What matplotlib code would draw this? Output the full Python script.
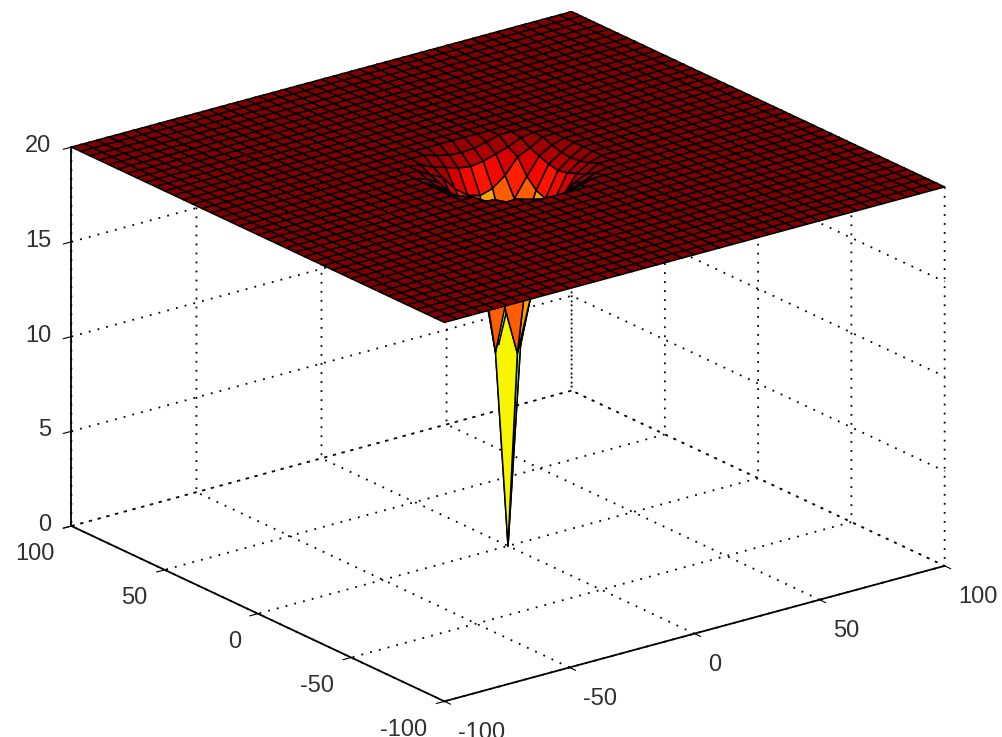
import numpy as np
import matplotlib
matplotlib.use('Agg')
from matplotlib import pyplot as plt
from mpl_toolkits.mplot3d import Axes3D

# grid spacing on both floor axes
step = 5
x_ticks = [-100, -50, 0, 50, 100]
y_ticks = [-100, -50, 0, 50, 100]
z_ticks = [0, 5, 10, 15, 20]

# height read per ring of grid points, ring = (dx^2 + dy^2) in grid steps
ring_id = [0, 1, 2, 4, 5, 8, 9, 10, 13, 16, 17, 18, 20, 25, 26, 29, 32]
ring_z = [0, 10.4, 13, 14.8, 16.2, 17.5, 17.8, 18.0, 18.5, 19.1, 19.2, 19.3, 19.4, 19.6, 19.65,
          19.8, 19.9]
flat_z = 20

plt.rcParams['font.family'] = ['Liberation Sans', 'DejaVu Sans']
plt.rcParams['axes.unicode_minus'] = False
plt.rcParams['grid.linestyle'] = (0, (1, 4))
plt.rcParams['grid.linewidth'] = 1.3
plt.rcParams['grid.color'] = 'black'

x = np.arange(-100, 101, step)
y = np.arange(-100, 101, step)
X, Y = np.meshgrid(x, y)
lookup = dict(zip(ring_id, ring_z))
rings = ((X / step) ** 2 + (Y / step) ** 2).astype(int)
Z = np.array([[lookup.get(v, flat_z) for v in row] for row in rings], dtype=float)

fig = plt.figure(figsize=(10.02, 7.37), dpi=100)
ax = fig.add_axes([24.8 / 1002, -102.7 / 737, 941 / 1002, 941 / 737], projection='3d', proj_type='ortho')
ax.view_init(elev=20.9, azim=-127.2)
ax.set_box_aspect((628, 617, 405.6))

colors = plt.cm.jet(Z / flat_z)
ax.plot_surface(X, Y, Z, facecolors=colors, edgecolor='black', linewidth=1.1,
                rstride=1, cstride=1, shade=False)

ax.set_xlim(-100, 100, view_margin=0)
ax.set_ylim(-100, 100, view_margin=0)
ax.set_zlim(0, 20, view_margin=0)
ax.set_xticks(x_ticks)
ax.set_yticks(y_ticks)
ax.set_zticks(z_ticks)
ax.tick_params(labelsize=17, labelcolor='#303030')
ax.xaxis.set_tick_params(pad=5)
ax.yaxis.set_tick_params(pad=4)
ax.zaxis.set_tick_params(pad=0)
plt.setp(ax.get_xticklabels(), ha='left')
plt.setp(ax.get_yticklabels(), ha='right')
plt.setp(ax.get_zticklabels(), ha='right', va='center')

for axis in (ax.xaxis, ax.yaxis, ax.zaxis):
    axis.set_pane_color((1, 1, 1, 0))
    axis.pane.set_edgecolor((1, 1, 1, 0))
    axis.line.set_color('black')
    axis.line.set_linewidth(1.3)
    axis._axinfo['tick']['inward_factor'] = 0
    axis._axinfo['tick']['outward_factor'] = -0.2

fig.savefig('out.png', dpi=100)
